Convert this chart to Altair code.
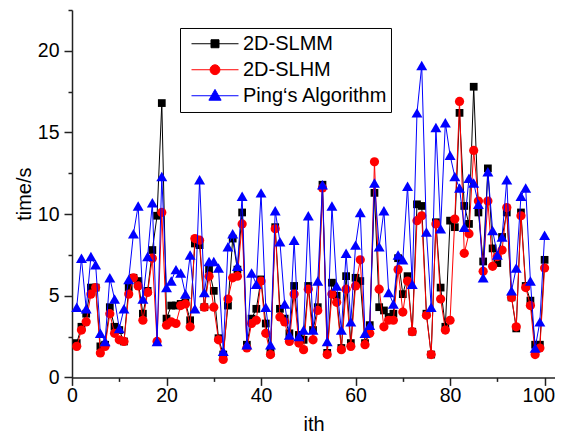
import altair as alt
import pandas as pd

idx = list(range(1, 101))

slmm = [2.1, 3.1, 3.9, 5.5, 5.5, 1.9, 2.0, 4.3, 3.1, 2.9,
        2.2, 5.5, 6.1, 5.9, 3.9, 5.3, 7.8, 9.9, 16.8, 3.6,
        4.4, 4.4, 4.5, 4.6, 3.5, 8.2, 8.1, 4.3, 6.6, 5.3,
        2.4, 1.4, 4.4, 8.5, 6.6, 10.1, 2.0, 3.6, 4.2, 6.0,
        3.3, 1.5, 9.2, 4.2, 3.6, 2.7, 5.6, 2.6, 2.3, 5.6,
        2.9, 4.3, 11.8, 1.5, 5.8, 5.0, 1.8, 6.2, 2.1, 6.1,
        5.9, 2.1, 3.2, 11.3, 4.3, 4.1, 3.7, 3.9, 7.3, 5.1,
        6.2, 2.8, 10.6, 10.5, 3.9, 1.4, 9.5, 5.5, 3.1, 9.6,
        9.2, 16.2, 10.5, 9.4, 17.8, 10.1, 7.1, 12.8, 7.9, 7.0,
        8.6, 10.1, 4.9, 3.0, 10.1, 5.6, 4.7, 2.0, 2.0, 7.2]

slhm = [1.9, 2.9, 3.4, 5.1, 5.5, 1.5, 1.9, 3.9, 2.7, 2.3,
        2.2, 5.1, 6.1, 5.6, 3.5, 5.2, 7.3, 2.2, 10.1, 3.2,
        3.4, 3.3, 4.4, 4.5, 3.1, 8.5, 8.4, 4.3, 6.2, 4.3,
        2.3, 1.1, 4.8, 6.1, 6.2, 9.4, 1.8, 3.3, 3.5, 5.9,
        2.7, 1.4, 9.1, 3.7, 3.4, 2.2, 5.1, 2.1, 1.7, 5.4,
        2.3, 4.1, 11.6, 1.4, 5.1, 4.6, 1.7, 5.4, 1.9, 5.6,
        7.2, 2.0, 2.7, 13.2, 5.4, 3.1, 3.5, 3.5, 6.6, 4.0,
        5.9, 2.8, 9.6, 9.9, 3.8, 1.4, 9.4, 4.8, 2.9, 3.5,
        9.7, 16.9, 7.6, 8.8, 13.9, 10.8, 6.5, 10.8, 6.8, 7.4,
        7.8, 10.4, 4.9, 3.1, 9.9, 5.5, 4.4, 1.4, 1.8, 6.7]

ping = [4.3, 7.3, 4.2, 7.4, 6.9, 2.7, 2.2, 6.1, 4.8, 3.0,
        4.2, 6.0, 8.8, 10.5, 4.8, 7.4, 10.7, 2.2, 12.3, 5.5,
        5.9, 6.6, 6.4, 5.1, 7.5, 4.2, 12.1, 5.2, 7.1, 7.1,
        6.7, 1.6, 8.0, 8.8, 6.8, 11.1, 2.0, 6.4, 5.7, 11.3,
        4.3, 2.0, 10.2, 8.3, 4.5, 2.6, 8.4, 2.5, 2.9, 9.9,
        2.9, 5.9, 11.8, 2.2, 10.5, 5.6, 2.9, 7.6, 3.4, 8.1,
        10.1, 2.7, 3.2, 11.9, 8.0, 10.2, 5.2, 4.5, 7.5, 7.2,
        11.7, 5.7, 16.2, 19.1, 8.9, 4.3, 15.3, 9.1, 15.6, 13.6,
        12.3, 11.6, 9.2, 12.2, 11.9, 10.6, 6.1, 12.6, 9.0, 7.5,
        8.6, 12.1, 5.3, 6.7, 11.1, 11.6, 5.9, 1.8, 3.4, 8.7]

names = ["2D-SLMM", "2D-SLHM", "Ping\u2018s Algorithm"]
colors = ["#000000", "#ff0000", "#0000ff"]
plot_shapes = ["square", "circle", "triangle-up"]
plot_sizes = [60, 85, 120]
legend_shapes = [
    "M-1,0H1M-0.17,-0.17H0.17V0.17H-0.17Z",
    "M-1,0H1M-0.21,0A0.21,0.21 0 1,0 0.21,0A0.21,0.21 0 1,0 -0.21,0Z",
    "M-1,0H1M0,-0.27L0.26,0.19H-0.26Z",
]

rows = []
for name, vals in zip(names, [slmm, slhm, ping]):
    for i, v in zip(idx, vals):
        rows.append({"i": i, "time": v, "series": name})
df = pd.DataFrame(rows)

FONT = "Liberation Sans"

x_enc = alt.X(
    "i:Q",
    scale=alt.Scale(domain=[0, 102.2], nice=False, zero=False),
    axis=alt.Axis(
        title="ith",
        values=list(range(0, 101, 10)),
        labelExpr="datum.value % 20 == 0 ? datum.label : ''",
        tickSize={"condition": {"test": "datum.value % 20 == 0", "value": 8}, "value": 4},
        labelAlign={"condition": {"test": "datum.value == 100", "value": "right"}, "value": "center"},
        labelOffset={"condition": {"test": "datum.value == 100", "value": 10}, "value": 0},
        labelPadding=1,
        labelFlush=False,
        titlePadding=10,
        grid=False,
    ),
)
y_enc = alt.Y(
    "time:Q",
    scale=alt.Scale(domain=[0, 22.5], nice=False, zero=False),
    axis=alt.Axis(
        title="time/s",
        values=[0, 2.5, 5, 7.5, 10, 12.5, 15, 17.5, 20, 22.5],
        labelExpr="datum.value % 5 == 0 ? format(datum.value, 'd') : ''",
        tickSize={"condition": {"test": "datum.value % 5 == 0", "value": 8}, "value": 4},
        labelPadding=5,
        labelFlush=False,
        titlePadding=3,
        grid=False,
    ),
)

layers = []
for name, col, shp, sz in zip(names, colors, plot_shapes, plot_sizes):
    base = alt.Chart(df).transform_filter(alt.datum.series == name)
    layers.append(base.mark_line(color=col, strokeWidth=1).encode(x=x_enc, y=y_enc))
    layers.append(
        base.mark_point(shape=shp, filled=True, color=col, size=sz, opacity=1).encode(x=x_enc, y=y_enc)
    )

leg = alt.Legend(
    title=None,
    orient="none",
    legendX=108,
    legendY=18,
    symbolSize=2209,
    symbolStrokeWidth=1,
    symbolOpacity=1,
    symbolOffset=8,
    labelFont=FONT,
    labelFontSize=20,
    labelColor="black",
    labelOffset=4,
    labelLimit=400,
    clipHeight=25.5,
    rowPadding=0,
    padding=3,
    strokeColor="black",
    fillColor="white",
)
legend_layer = alt.Chart(df).mark_point(filled=True, opacity=0).encode(
    x=x_enc,
    y=y_enc,
    color=alt.Color("series:N", scale=alt.Scale(domain=names, range=colors), legend=leg),
    stroke=alt.Stroke("series:N", scale=alt.Scale(domain=names, range=colors), legend=leg),
    shape=alt.Shape("series:N", scale=alt.Scale(domain=names, range=legend_shapes), legend=leg),
)
layers.append(legend_layer)

chart = alt.layer(*layers).properties(
    width=483,
    height=367.4,
    autosize=alt.AutoSizeParams(type="none"),
    padding={"left": 64, "top": 2, "right": 0, "bottom": 57.5},
).configure_view(stroke=None).configure_axis(
    labelFont=FONT,
    labelFontSize=19.5,
    labelColor="black",
    titleFont=FONT,
    titleFontSize=20,
    titleFontWeight="normal",
    titleColor="black",
    domainColor="#222222",
    domainWidth=1.5,
    tickColor="#222222",
    tickWidth=1.5,
)

chart.save("out.html", embed_options={"renderer": "svg", "actions": False})
